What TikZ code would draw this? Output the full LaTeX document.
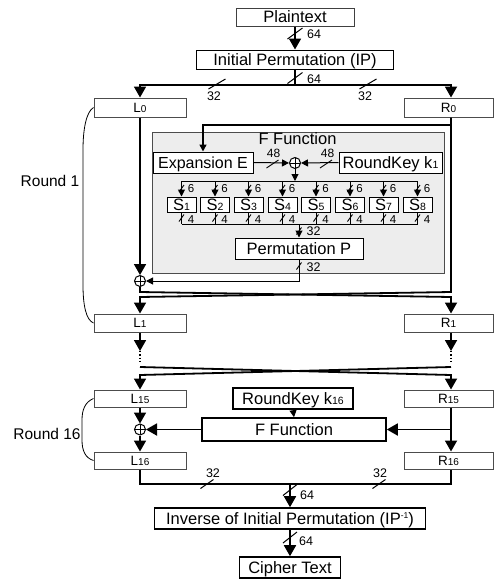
\documentclass[tikz,border=0pt]{standalone}
\usepackage{fontspec}
\setmainfont{Liberation Sans}
\usetikzlibrary{arrows.meta}
\newcommand\smalldig[1]{{\fontsize{10}{10}\selectfont #1}}
\newcommand\sdig[1]{{\fontsize{10.5}{10.5}\selectfont #1}}
\begin{document}
\begin{tikzpicture}[x=1pt,y=-1pt,
  bigtext/.style={font=\fontsize{16.5}{18}\selectfont, text height=11.8pt, text depth=0pt, inner sep=0pt},
  lrtext/.style={font=\fontsize{13.5}{14}\selectfont, text height=9.7pt, text depth=0pt},
  numlab/.style={font=\fontsize{12.5}{12.5}\selectfont, inner sep=0pt, text height=9pt, text depth=0pt},
  numsm/.style={font=\fontsize{11.5}{11.5}\selectfont, inner sep=0pt, text height=8.2pt, text depth=0pt},
  box/.style={draw, line width=1pt, bigtext},
  thickbox/.style={box, line width=1.6pt},
  lrbox/.style={draw=black!70, line width=1pt, inner sep=0pt, lrtext},
  sbox/.style={draw, line width=1pt, bigtext, minimum width=29pt, minimum height=15pt},
  main/.style={line width=1.8pt},
  mainarr/.style={main, -{Triangle[length=11pt,width=12pt]}},
  fl/.style={line width=1pt},
  farr/.style={fl, -{Triangle[length=7pt,width=7pt]}},
  slashmark/.style={line width=1pt},
  slashsm/.style={line width=0.9pt},
  xorop/.style={circle, draw, line width=1pt, minimum size=11pt, inner sep=0pt,
    path picture={\draw[line width=0.8pt] (path picture bounding box.north) -- (path picture bounding box.south)
      (path picture bounding box.west) -- (path picture bounding box.east);}},
  roundlab/.style={font=\fontsize{15.5}{16}\selectfont, inner sep=0pt},
  brace/.style={line width=0.8pt}
]
\useasboundingbox (0,0) rectangle (494,579);

\coordinate (rx) at (451,0);

% ---- top ----
\node[box, draw=black!75, minimum width=118pt, minimum height=18pt] (plain) at (295,17) {Plaintext};
\node[box, minimum width=197pt, minimum height=19pt] (ip) at (295,59.5) {Initial Permutation (IP)};
\draw[mainarr] (plain.south) -- (ip.north);
\draw[slashmark] (295,33.5) ++(-7.5,5.5) -- ++(15,-11);
\node[numlab] (n64a) at (314,34) {64};

\node[lrbox, minimum width=92pt, minimum height=19pt] (L0) at (140,107.5) {L\smalldig{0}};
\node[lrbox, minimum width=89pt, minimum height=19pt] (R0) at (448.5,107.5) {R\smalldig{0}};

\coordinate (split) at (295,85);
\draw[main] (ip.south) -- (split);
\draw[mainarr] (split) -| (L0.north);
\draw[mainarr] (split) -| (R0.north -| rx);
\draw[slashmark] (295,78) ++(-7.5,5.5) -- ++(15,-11);
\node[numlab] (n64b) at (314,79) {64};
\draw[slashmark] (217,84) ++(-8.5,5) -- ++(17,-10);
\node[numlab] (n32a) at (214,96) {32};
\draw[slashmark] (368,84) ++(-8.5,5) -- ++(17,-10);
\node[numlab] (n32b) at (365,96) {32};

% ---- F function (round 1) ----
\node[draw=black!70, fill=black!7, line width=1pt, minimum width=292pt, minimum height=141pt, inner sep=0pt] (F1) at (298,202.5) {};
\node[bigtext] (ftitle) at (297.5,139) {F Function};
\node[box, minimum width=100pt, minimum height=21pt, fill=white, font=\fontsize{16}{18}\selectfont] (E) at (203,162.5) {Expansion E};
\node[xorop, fill=white] (xor1) at (295,163) {};
\node[box, minimum width=103pt, minimum height=21pt, fill=white] (K1) at (390.5,162.5) {RoundKey k\sdig{1}};

\coordinate (rb) at (451,125);
\draw[farr, line width=1.4pt] (rb) -| (E.north);
\draw[farr] (E.east) -- (xor1.west);
\draw[farr] (K1.west) -- (xor1.east);
\draw[slashsm] (272.5,164) ++(-6,4) -- ++(12,-8);
\node[numlab, font=\fontsize{12}{12}\selectfont, text height=8.6pt] (n48a) at (273.5,153.5) {48};
\draw[slashsm] (326,164) ++(-6,4) -- ++(12,-8);
\node[numlab, font=\fontsize{12}{12}\selectfont, text height=8.6pt] (n48b) at (327.5,153.5) {48};

\coordinate (busT) at (0,181);
\coordinate (busB) at (0,224);
\draw[farr] (xor1.south) -- (xor1 |- busT);

\foreach \i/\x in {1/181.5,2/215,3/248.5,4/282.5,5/316,6/350,7/383.5,8/417.5}{
  \node[sbox, fill=white] (S\i) at (\x,204.5) {S\sdig{\i}};
  \draw[farr] (S\i |- busT) -- (S\i.north);
  \draw[slashsm] (\x,188.5) ++(-2.5,3.5) -- ++(5,-7);
  \node[numsm] (six\i) at (\x+9.5,188.5) {6};
  \draw[fl] (S\i.south) -- (S\i |- busB);
  \draw[slashsm] (\x,218) ++(-2.5,3.5) -- ++(5,-7);
  \node[numsm] (four\i) at (\x+9.5,219) {4};
}
\draw[fl] (S1 |- busT) -- (S8 |- busT);
\draw[fl] (S1 |- busB) -- (S8 |- busB);

\node[box, minimum width=128pt, minimum height=21pt, fill=white] (P) at (299,248.5) {Permutation P};
\draw[farr] (P |- busB) -- (P.north);
\draw[slashsm] (299,231) ++(-2.5,3.5) -- ++(5,-7);
\node[numlab] (n32c) at (313.5,231) {32};

\node[xorop] (xor2) at (140,281) {};
\draw[farr] (P.south) |- (xor2.east);
\draw[slashsm] (299,266) ++(-2.5,3.5) -- ++(5,-7);
\node[numlab] (n32d) at (313.5,267) {32};

\draw[mainarr] (L0.south) -- (xor2.north);

% ---- crossing after round 1 ----
\node[lrbox, minimum width=92pt, minimum height=18pt] (L1) at (140,323) {L\smalldig{1}};
\node[lrbox, minimum width=89pt, minimum height=18pt] (R1) at (448.5,323) {R\smalldig{1}};
\coordinate (c1L) at (140,292);
\coordinate (c1R) at (451,292);
\coordinate (c2L) at (140,297);
\coordinate (c2R) at (451,297);
\draw[mainarr] (xor2.south) -- (c1L) -- (c2R) -- (R1.north -| rx);
\draw[mainarr] (R0.south -| rx) -- (c1R) -- (c2L) -- (L1.north);

% ---- dots ----
\coordinate (dL) at (140,351);
\coordinate (dR) at (451,351);
\draw[mainarr] (L1.south) -- (dL);
\draw[mainarr] (R1.south -| rx) -- (dR);
\coordinate (eL) at (140,364);
\coordinate (eR) at (451,364);
\draw[line width=1.3pt, dotted] (dL) -- (eL);
\draw[line width=1.3pt, dotted] (dR) -- (eR);

\node[lrbox, minimum width=92pt, minimum height=17pt] (L15) at (140,398.5) {L\smalldig{15}};
\node[lrbox, minimum width=89pt, minimum height=17pt] (R15) at (448.5,398.5) {R\smalldig{15}};
\coordinate (c3L) at (140,367);
\coordinate (c3R) at (451,367);
\coordinate (c4L) at (140,375);
\coordinate (c4R) at (451,375);
\draw[mainarr] (c3L) -- (c4R) -- (R15.north -| rx);
\draw[mainarr] (c3R) -- (c4L) -- (L15.north);

% ---- round 16 ----
\node[thickbox, minimum width=120pt, minimum height=21pt] (K16) at (293,398.5) {RoundKey k\sdig{16}};
\node[thickbox, minimum width=184pt, minimum height=23pt] (F16) at (294,429.5) {F Function};
\node[xorop] (xor3) at (140,429.5) {};
\node[lrbox, minimum width=92pt, minimum height=17pt] (L16) at (140,460.5) {L\smalldig{16}};
\node[lrbox, minimum width=89pt, minimum height=17pt] (R16) at (448.5,460.5) {R\smalldig{16}};
\coordinate (rj) at (451,429.5);
\draw[farr] (K16.south) -- (F16.north);
\draw[mainarr] (L15.south) -- (xor3.north);
\draw[mainarr] (xor3.south) -- (L16.north);
\draw[mainarr] (R15.south -| rx) -- (R16.north -| rx);
\draw[mainarr] (rj) -- (F16.east);
\draw[mainarr] (F16.west) -- (xor3.east);

% ---- output ----
\node[thickbox, minimum width=271pt, minimum height=21pt] (ipi) at (290,518.5) {Inverse of Initial Permutation (IP\raisebox{5.5pt}{\fontsize{8.5}{8.5}\selectfont -1})};
\node[thickbox, minimum width=101pt, minimum height=21pt] (cipher) at (290,567.5) {Cipher Text};
\coordinate (bj) at (290,484);
\draw[main] (L16.south) |- (bj) -| (R16.south -| rx);
\draw[mainarr] (bj) -- (ipi.north);
\draw[mainarr] (ipi.south) -- (cipher.north);
\draw[slashmark] (207,484) ++(-6.5,4.5) -- ++(13,-9);
\node[numlab] (n32e) at (213,473) {32};
\draw[slashmark] (379,484) ++(-6.5,4.5) -- ++(13,-9);
\node[numlab] (n32f) at (380,473) {32};
\draw[slashmark] (290,490) ++(-7,5.5) -- ++(14,-11);
\node[numlab] (n64c) at (307,495) {64};
\draw[slashmark] (290,537.5) ++(-7,5.5) -- ++(14,-11);
\node[numlab] (n64d) at (306,541) {64};

% ---- round brackets ----
\node[roundlab] (rl1) at (50,181) {Round 1};
\draw[brace] (L0.west) .. controls (86,112) and (83,130) .. (83,150) -- (83,285) .. controls (83,305) and (86,320) .. (L1.west);
\node[roundlab] (rl16) at (47,434) {Round 16};
\draw[brace] (L15.west) .. controls (85,402) and (82,410) .. (82,420) -- (82,440) .. controls (82,450) and (85,458) .. (L16.west);
\end{tikzpicture}
\end{document}
